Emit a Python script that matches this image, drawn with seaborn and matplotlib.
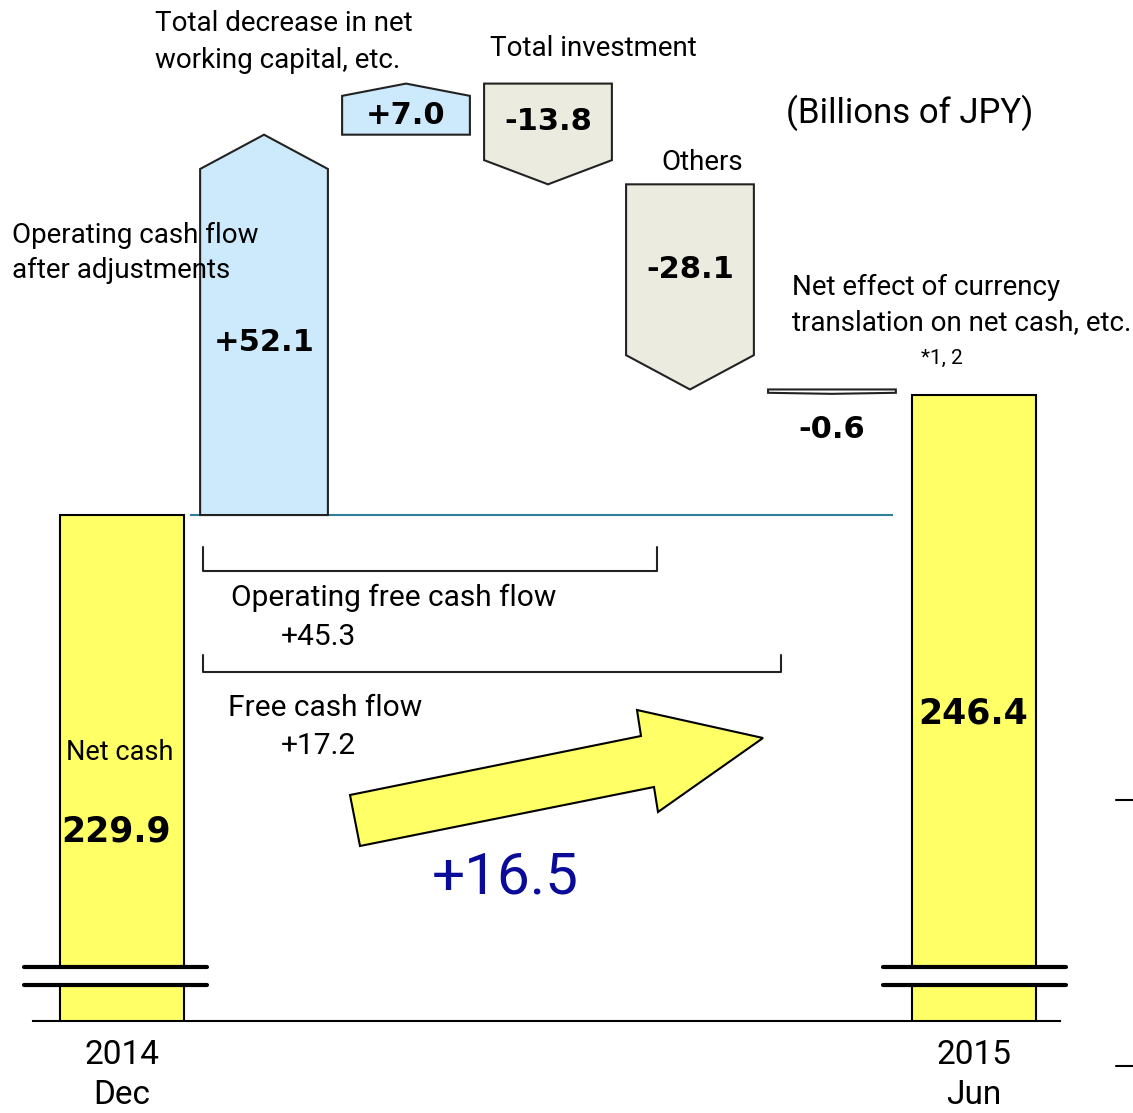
import matplotlib
matplotlib.use('Agg')
import matplotlib.pyplot as plt
import seaborn as sns
from matplotlib.patches import Polygon, Rectangle
from matplotlib.lines import Line2D

# chart data
net_cash_labels = ['2014\nDec', '2015\nJun']
net_cash_values = [229.9, 246.4]
flow_labels = ['Operating cash flow\nafter adjustments',
               'Total decrease in net\nworking capital, etc.',
               'Total investment',
               'Others',
               'Net effect of currency\ntranslation on net cash, etc.']
flow_values = [52.1, 7.0, -13.8, -28.1, -0.6]
ofcf_value = 45.3
fcf_value = 17.2
net_change = 16.5

W, H = 1133, 1113
YELLOW = '#ffff66'
BLUE = '#cdeafc'
BEIGE = '#ecebe0'
flow_colors = [BLUE, BLUE, BEIGE, BEIGE, '#ffffff']


def fx(px):
    return px / W


def fy(py):
    return 1 - py / H


sns.set_style('white')
plt.rcParams['font.family'] = ['Roboto', 'DejaVu Sans']
plt.rcParams['text.color'] = 'black'
plt.rcParams['xtick.color'] = 'black'

fig = plt.figure(figsize=(W / 100, H / 100), dpi=100)
ax = fig.add_axes([fx(33), fy(1021), fx(1060) - fx(33), fy(0) - fy(1021)])

order = [net_cash_labels[0]] + flow_labels + [net_cash_labels[1]]
sns.barplot(x=net_cash_labels, y=net_cash_values, order=order, color=YELLOW,
            saturation=1, edgecolor='black', linewidth=1.5, width=0.87, ax=ax)

# waterfall arrows
level = net_cash_values[0]
w = 0.9
for i, v in enumerate(flow_values):
    x = i + 1
    start, end = level, level + v
    head = min(0.24 * abs(v), 4.7)
    sgn = 1 if v > 0 else -1
    pts = [(x - w / 2, start), (x + w / 2, start), (x + w / 2, end - sgn * head),
           (x, end), (x - w / 2, end - sgn * head)]
    ax.add_patch(Polygon(pts, closed=True, facecolor=flow_colors[i],
                         edgecolor='#222222', linewidth=1.5, zorder=3))
    txt = f'{v:+.1f}'
    if abs(v) < 2:
        ax.annotate(txt, (x, end), xytext=(0, -26), textcoords='offset points',
                    ha='center', va='center', fontsize=22, fontweight='bold',
                    family='DejaVu Sans')
    else:
        ymid = (start + end - sgn * head) / 2
        ax.text(x, ymid, txt, ha='center', va='center', fontsize=22,
                fontweight='bold', family='DejaVu Sans', zorder=4)
    level = end

# reference line at starting net cash
ax.hlines(net_cash_values[0], 0.48, 5.43, color='#2e7f9a', linewidth=1.5, zorder=2)

ax.set_xlim(-0.627, 6.606)
ax.set_ylim(160.59, 300.45)
ax.set_xticks([0, 6])
ax.set_xticklabels(net_cash_labels, fontsize=24, linespacing=1.3)
ax.tick_params(axis='x', length=0, pad=13)
ax.set_yticks([])
ax.set_xlabel('')
ax.set_ylabel('')
for s in ['top', 'left', 'right']:
    ax.spines[s].set_visible(False)
ax.spines['bottom'].set_color('black')
ax.spines['bottom'].set_linewidth(1.5)
ax.patch.set_alpha(0)

# net cash values
fig.text(fx(120), fy(752), 'Net cash', ha='center', va='center', fontsize=19.5)
fig.text(fx(116), fy(832), f'{net_cash_values[0]:.1f}', ha='center', va='center',
         fontsize=25, fontweight='bold', family='DejaVu Sans')
fig.text(fx(973), fy(714), f'{net_cash_values[1]:.1f}', ha='center', va='center',
         fontsize=25, fontweight='bold', family='DejaVu Sans')

# flow labels
fig.text(fx(155), fy(42), flow_labels[1], ha='left', va='center', fontsize=20, linespacing=1.45)
fig.text(fx(490), fy(48), flow_labels[2], ha='left', va='center', fontsize=20)
fig.text(fx(661), fy(163), flow_labels[3], ha='left', va='center', fontsize=20)
fig.text(fx(12), fy(253), flow_labels[0], ha='left', va='center', fontsize=20, linespacing=1.4)
fig.text(fx(792), fy(305), flow_labels[4], ha='left', va='center', fontsize=20, linespacing=1.38)
fig.text(fx(921), fy(358), '*1, 2', ha='left', va='center', fontsize=15)
fig.text(fx(786), fy(113), '(Billions of JPY)', ha='left', va='center', fontsize=25)

# brackets
def bracket(x0, x1, y0, y1):
    fig.add_artist(Line2D([fx(x0), fx(x0), fx(x1), fx(x1)], [fy(y0), fy(y1), fy(y1), fy(y0)],
                          color='#222222', linewidth=1.5))

bracket(203, 657, 547, 571)
bracket(203, 781, 655, 672)
fig.text(fx(231), fy(598), 'Operating free cash flow', ha='left', va='center', fontsize=21.5)
fig.text(fx(281), fy(637), f'{ofcf_value:+.1f}', ha='left', va='center', fontsize=21.5)
fig.text(fx(228), fy(708), 'Free cash flow', ha='left', va='center', fontsize=21.5)
fig.text(fx(281), fy(746), f'{fcf_value:+.1f}', ha='left', va='center', fontsize=21.5)

# big change arrow
arrow = [(350, 795), (641, 736), (637, 710), (763, 738), (658, 812), (654, 787), (360, 846)]
fig.add_artist(Polygon([(fx(a), fy(b)) for a, b in arrow], closed=True,
                       facecolor=YELLOW, edgecolor='black', linewidth=1.5))
fig.text(fx(505), fy(878), f'{net_change:+.1f}', ha='center', va='center',
         fontsize=42, color='#0b0b99')

# axis break marks
for x0, x1 in [(24, 207), (883, 1066)]:
    fig.add_artist(Rectangle((fx(x0 + 20), fy(985)), fx(x1 - x0 - 40), fy(967) - fy(985),
                             facecolor='white', edgecolor='none'))
    for yy in (967, 985):
        fig.add_artist(Line2D([fx(x0), fx(x1)], [fy(yy), fy(yy)], color='black', linewidth=3))

for yy in (800, 1066):
    fig.add_artist(Line2D([fx(1116), fx(1133)], [fy(yy), fy(yy)], color='black', linewidth=1.5))

fig.savefig('out.png', dpi=100)
